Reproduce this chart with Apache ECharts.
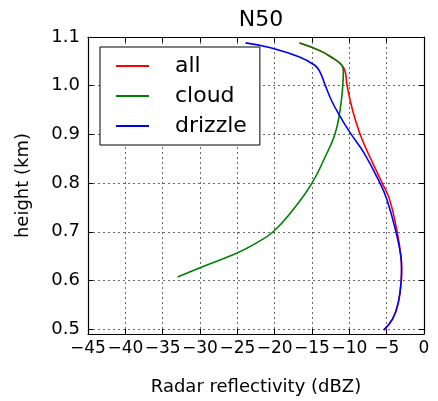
<!DOCTYPE html>
<html>
<head>
<meta charset="utf-8">
<script src="https://cdn.jsdelivr.net/npm/echarts@6/dist/echarts.min.js"></script>
<style>
  html, body { margin: 0; padding: 0; background: #fff; }
  #chart { width: 438px; height: 401px; }
</style>
</head>
<body>
<div id="chart"></div>
<script>
// Reflectivity profiles (dBZ) against height (km), listed from bottom to top
const allDbz = [-5.4, -4.2, -3.45, -3.05, -3.0, -3.1, -3.6, -4.6, -5.6, -6.94, -8.3, -9.2, -9.88, -10.33, -10.56, -11.0, -12.15, -13.96, -16.67];
const allHeight = [0.498, 0.521, 0.554, 0.600, 0.625, 0.650, 0.700, 0.766, 0.800, 0.8435, 0.890, 0.930, 0.969, 1.003, 1.029, 1.042, 1.056, 1.072, 1.0875];

const cloudDbz = [-33.0, -30.0, -25.1, -22.9, -20.2, -17.5, -15.0, -13.2, -11.9, -11.24, -10.9, -10.8, -11.0, -12.15, -13.96, -16.67];
const cloudHeight = [0.607, 0.626, 0.656, 0.673, 0.700, 0.746, 0.800, 0.855, 0.902, 0.950, 0.996, 1.029, 1.042, 1.056, 1.072, 1.0875];

const drizzleDbz = [-5.4, -4.2, -3.45, -3.05, -3.0, -3.1, -3.76, -4.97, -5.9, -8.08, -9.88, -11.47, -12.37, -13.28, -13.96, -14.63, -16.67, -20.55, -23.9];
const drizzleHeight = [0.498, 0.521, 0.554, 0.600, 0.625, 0.650, 0.700, 0.766, 0.800, 0.863, 0.903, 0.943, 0.969, 1.003, 1.029, 1.042, 1.059, 1.078, 1.088];

const heightTicks = [0.5, 0.6, 0.7, 0.8, 0.9, 1.0, 1.1];

const FONT = 'DejaVu Sans';
const pairs = (xs, ys) => xs.map((x, i) => [x, ys[i]]);
const minusSign = v => String(v).replace('-', '\u2212');

const gridLine = { show: true, lineStyle: { color: '#000', width: 0.6, type: [2, 3] } };
const frameLine = { show: true, onZero: false, lineStyle: { color: '#000', width: 1.2 } };
const innerTick = { show: true, inside: true, length: 5, lineStyle: { color: '#000', width: 1 } };

const chart = echarts.init(document.getElementById('chart'), null, { renderer: 'canvas' });
chart.setOption({
  animation: false,
  backgroundColor: '#fff',
  title: {
    text: 'N50',
    left: 256,
    top: 4,
    textAlign: 'center',
    textStyle: { fontFamily: FONT, fontSize: 22, fontWeight: 'normal', color: '#000' }
  },
  grid: { left: 88, right: 14, top: 37, bottom: 56, containLabel: false },
  legend: {
    data: ['all', 'cloud', 'drizzle'],
    orient: 'vertical',
    left: 100,
    top: 47,
    icon: 'rect',
    itemWidth: 33,
    itemHeight: 2,
    itemGap: 8,
    padding: [8, 13, 8, 16],
    borderColor: '#000',
    borderWidth: 1,
    backgroundColor: '#fff',
    textStyle: { fontFamily: FONT, fontSize: 22, color: '#000', padding: [0, 0, 0, 21] }
  },
  xAxis: [
    {
      type: 'value', position: 'bottom', min: -45, max: 0, interval: 5,
      name: 'Radar reflectivity (dBZ)', nameLocation: 'middle', nameGap: 44,
      nameTextStyle: { fontFamily: FONT, fontSize: 18, color: '#000' },
      axisLine: frameLine, axisTick: innerTick,
      axisLabel: { fontFamily: FONT, fontSize: 17, color: '#000', margin: 6, formatter: minusSign, showMinLabel: true, showMaxLabel: true, hideOverlap: false },
      splitLine: gridLine
    },
    {
      type: 'value', position: 'top', min: -45, max: 0, interval: 5,
      axisLine: frameLine, axisTick: innerTick, axisLabel: { show: false }, splitLine: { show: false }
    }
  ],
  yAxis: [
    {
      type: 'value', position: 'left', min: 0.49, max: 1.1,
      name: 'height (km)', nameLocation: 'middle', nameGap: 56,
      nameTextStyle: { fontFamily: FONT, fontSize: 18, color: '#000' },
      axisLine: frameLine,
      axisTick: Object.assign({ customValues: heightTicks }, innerTick),
      axisLabel: { customValues: heightTicks, fontFamily: FONT, fontSize: 18, color: '#000', margin: 8, formatter: v => v.toFixed(1) },
      splitLine: Object.assign({ customValues: heightTicks }, gridLine)
    },
    {
      type: 'value', position: 'right', min: 0.49, max: 1.1,
      axisLine: frameLine,
      axisTick: Object.assign({ customValues: heightTicks }, innerTick),
      axisLabel: { show: false }, splitLine: { show: false }
    }
  ],
  series: [
    { name: 'all', type: 'line', data: pairs(allDbz, allHeight), smooth: 0.45, symbol: 'none', color: '#ff0000', lineStyle: { width: 1.6 } },
    { name: 'cloud', type: 'line', data: pairs(cloudDbz, cloudHeight), smooth: 0.45, symbol: 'none', color: '#008000', lineStyle: { width: 1.6 } },
    { name: 'drizzle', type: 'line', data: pairs(drizzleDbz, drizzleHeight), smooth: 0.45, symbol: 'none', color: '#0000ff', lineStyle: { width: 1.6 } }
  ]
});
</script>
</body>
</html>
